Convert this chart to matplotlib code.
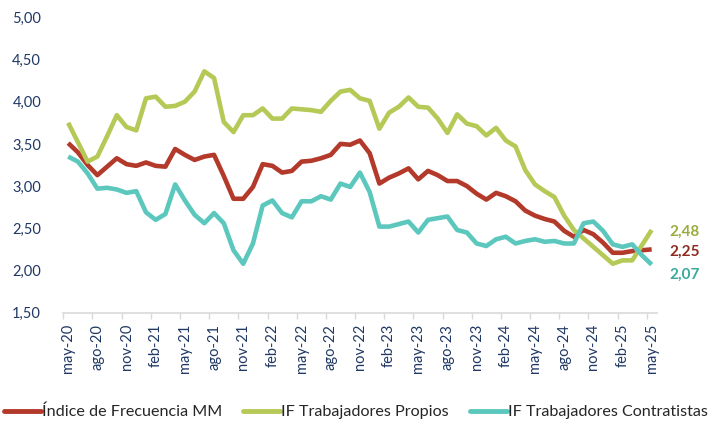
import matplotlib.pyplot as plt
import numpy as np
from matplotlib.ticker import FuncFormatter

# monthly values may-20 .. may-25 (61 months)
indice_mm = [3.51, 3.40, 3.25, 3.13, 3.23, 3.33, 3.26, 3.24, 3.28, 3.24,
             3.23, 3.44, 3.37, 3.31, 3.35, 3.37, 3.12, 2.85, 2.85, 2.99,
             3.26, 3.24, 3.16, 3.18, 3.29, 3.30, 3.33, 3.37, 3.50, 3.49,
             3.54, 3.39, 3.03, 3.10, 3.15, 3.21, 3.08, 3.18, 3.13, 3.06,
             3.06, 3.00, 2.91, 2.84, 2.92, 2.88, 2.82, 2.71, 2.65, 2.61,
             2.58, 2.47, 2.40, 2.48, 2.43, 2.33, 2.21, 2.21, 2.23, 2.24,
             2.25]
propios = [3.75, 3.52, 3.29, 3.35, 3.59, 3.84, 3.70, 3.66, 4.04, 4.06,
           3.94, 3.95, 4.00, 4.12, 4.36, 4.28, 3.76, 3.64, 3.84, 3.84,
           3.92, 3.80, 3.80, 3.92, 3.91, 3.90, 3.88, 4.01, 4.12, 4.14,
           4.04, 4.01, 3.68, 3.87, 3.94, 4.05, 3.94, 3.93, 3.80, 3.63,
           3.85, 3.74, 3.71, 3.60, 3.69, 3.54, 3.47, 3.19, 3.02, 2.94,
           2.87, 2.65, 2.48, 2.38, 2.28, 2.18, 2.08, 2.12, 2.12, 2.30,
           2.48]
contratistas = [3.35, 3.29, 3.15, 2.97, 2.98, 2.96, 2.92, 2.94, 2.69, 2.60,
                2.67, 3.02, 2.83, 2.66, 2.56, 2.68, 2.56, 2.24, 2.08, 2.32,
                2.77, 2.83, 2.68, 2.63, 2.82, 2.82, 2.88, 2.84, 3.03, 2.99,
                3.16, 2.93, 2.52, 2.52, 2.55, 2.58, 2.45, 2.60, 2.62, 2.64,
                2.48, 2.45, 2.32, 2.29, 2.37, 2.40, 2.32, 2.35, 2.37, 2.34,
                2.35, 2.32, 2.32, 2.56, 2.58, 2.47, 2.31, 2.28, 2.31, 2.18,
                2.07]
tick_labels = ["may-20", "ago-20", "nov-20", "feb-21", "may-21", "ago-21", "nov-21",
               "feb-22", "may-22", "ago-22", "nov-22", "feb-23", "may-23", "ago-23",
               "nov-23", "feb-24", "may-24", "ago-24", "nov-24", "feb-25", "may-25"]
series_names = ["Índice de Frecuencia MM", "IF Trabajadores Propios",
                "IF Trabajadores Contratistas"]

plt.rcParams['font.family'] = ['Lato', 'DejaVu Sans']

line_colors = ["#b3392b", "#b5c957", "#5cc8bd"]
label_colors = ["#8e2a20", "#9aae3e", "#3aa99c"]
label_offsets = [-2, -1, -7]  # vertical nudges (pt) for the end labels

fig = plt.figure(figsize=(7.09, 4.24), dpi=100)
ax = fig.add_axes([0.0893, 0.2625, 0.8367, 0.6967])

x = np.arange(len(indice_mm))
all_series = [indice_mm, propios, contratistas]
for vals, name, c in zip(all_series, series_names, line_colors):
    ax.plot(x, vals, color=c, lw=3.3, label=name, solid_joinstyle='round',
            solid_capstyle='butt')

# end value labels
for vals, c, dy in zip([propios, indice_mm, contratistas],
                       [label_colors[1], label_colors[0], label_colors[2]],
                       [label_offsets[1], label_offsets[0], label_offsets[2]]):
    ax.annotate(f"{vals[-1]:.2f}".replace('.', ','), xy=(x[-1], vals[-1]),
                xytext=(13, dy), textcoords='offset points', ha='left',
                va='center', fontsize=11, fontweight='bold', color=c)

ax.set_ylim(1.5, 5.0)
ax.set_yticks(np.arange(1.5, 5.01, 0.5))
ax.yaxis.set_major_formatter(FuncFormatter(lambda v, p: f"{v:.2f}".replace('.', ',')))
ax.tick_params(axis='y', length=0, pad=16, labelsize=10.5, labelcolor='#1f3864')

ax.set_xlim(-0.5, len(x) - 0.5)
ax.set_xticks(x[::3])
ax.set_xticklabels(tick_labels, rotation=90)
ax.set_xticks(np.arange(-0.5, len(x) - 1, 3), minor=True)
ax.tick_params(axis='x', which='major', length=0, pad=8, labelsize=10.5,
               labelcolor='#1f3864')
ax.tick_params(axis='x', which='minor', length=4, width=1, color='#d9d9d9',
               direction='out')

for s in ['left', 'top', 'right']:
    ax.spines[s].set_visible(False)
ax.spines['bottom'].set_color('#d9d9d9')
ax.spines['bottom'].set_linewidth(1.2)

leg = fig.legend(loc='center', bbox_to_anchor=(0.502, 0.028), ncol=3, frameon=False,
                 fontsize=11.6, handlelength=2.3, handletextpad=0.05,
                 columnspacing=1.3, labelcolor='#262626')
for h in leg.get_lines():
    h.set_linewidth(3.5)
    h.set_solid_capstyle('round')

fig.savefig("out.png", dpi=100)
